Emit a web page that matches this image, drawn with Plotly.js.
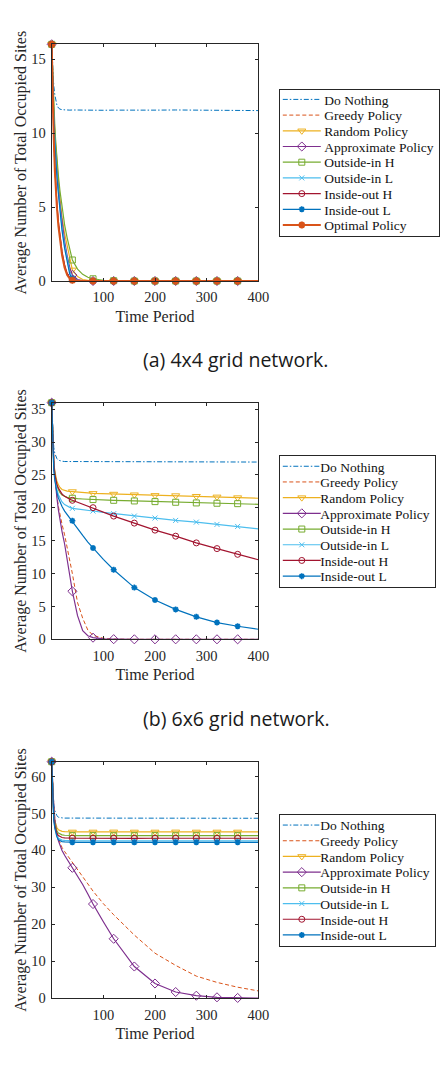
<!DOCTYPE html>
<html>
<head>
<meta charset="utf-8">
<script src="https://cdn.plot.ly/plotly-3.0.1.min.js"></script>
<style>
  html, body { margin: 0; padding: 0; background: #ffffff; }
  #chart { width: 442px; height: 1068px; }
</style>
</head>
<body>
<div id="chart"></div>
<script>
// Sampling times (periods) shared by every series
const T = [0, 2, 4, 6, 8, 10, 13, 16, 20, 25, 30, 35, 40, 50, 60, 70, 80, 100, 120, 160, 200, 240, 280, 320, 360, 400];
// Periods at which a marker is drawn on the marked series
const MARK_T = [0, 40, 80, 120, 160, 200, 240, 280, 320, 360];

const xTicks = [100, 200, 300, 400];
const yTicksA = [0, 5, 10, 15];
const yTicksB = [0, 5, 10, 15, 20, 25, 30, 35];
const yTicksC = [0, 10, 20, 30, 40, 50, 60];

const captionA = '(a) 4x4 grid network.';
const captionB = '(b) 6x6 grid network.';

// ---- (a) 4x4 grid network ----
const g4_doNothing   = [16, 14.2, 13.2, 12.6, 12.2, 11.9, 11.7, 11.62, 11.58, 11.56, 11.55, 11.55, 11.56, 11.55, 11.54, 11.53, 11.52, 11.54, 11.55, 11.53, 11.55, 11.56, 11.55, 11.54, 11.53, 11.52];
const g4_greedy      = [16, 12.3, 9.8, 7.7, 6.3, 5.2, 3.9, 2.9, 1.9, 1.0, 0.45, 0.18, 0.06, 0.01, 0, 0, 0, 0, 0, 0, 0, 0, 0, 0, 0, 0];
const g4_random      = [16, 13.4, 11.6, 10.1, 8.9, 7.9, 6.7, 5.6, 4.3, 3.2, 2.4, 1.4, 0.75, 0.3, 0.1, 0.04, 0.02, 0, 0, 0, 0, 0, 0, 0, 0, 0];
const g4_approximate = [16, 13.2, 11.3, 9.8, 8.6, 7.6, 6.3, 5.2, 3.9, 2.7, 1.7, 0.9, 0.4, 0.1, 0.03, 0.01, 0, 0, 0, 0, 0, 0, 0, 0, 0, 0];
const g4_outsideInH  = [16, 13.6, 11.9, 10.5, 9.3, 8.3, 7.1, 6.1, 4.9, 3.8, 2.9, 2.2, 1.42, 0.8, 0.45, 0.25, 0.15, 0.05, 0.02, 0, 0, 0, 0, 0, 0, 0];
const g4_outsideInL  = [16, 13.1, 11.1, 9.6, 8.3, 7.3, 6.0, 4.8, 3.6, 2.4, 1.4, 0.6, 0.2, 0.05, 0.01, 0, 0, 0, 0, 0, 0, 0, 0, 0, 0, 0];
const g4_insideOutH  = [16, 12.4, 9.9, 7.9, 6.4, 5.3, 4.0, 3.0, 2.0, 1.1, 0.5, 0.2, 0.08, 0.02, 0, 0, 0, 0, 0, 0, 0, 0, 0, 0, 0, 0];
const g4_insideOutL  = [16, 13, 11, 9.4, 8.1, 7.1, 5.9, 4.6, 3.4, 2.2, 1.2, 0.45, 0.15, 0.03, 0, 0, 0, 0, 0, 0, 0, 0, 0, 0, 0, 0];
const g4_optimal     = [16, 12.2, 9.6, 7.5, 6.1, 5.0, 3.7, 2.7, 1.75, 0.9, 0.4, 0.15, 0.05, 0.01, 0, 0, 0, 0, 0, 0, 0, 0, 0, 0, 0, 0];

// ---- (b) 6x6 grid network ----
const g6_doNothing   = [36, 31.0, 29.2, 28.3, 27.8, 27.5, 27.25, 27.15, 27.1, 27.05, 27.05, 27.03, 27.03, 27.02, 27.02, 27.0, 27.0, 27.0, 26.98, 27.0, 26.98, 26.97, 26.98, 26.97, 26.97, 26.97];
const g6_greedy      = [36, 31, 27.6, 25.2, 23.3, 21.9, 20.2, 18.9, 17.5, 15.9, 14.1, 12.2, 10.0, 5.6, 3.2, 1.4, 0.6, 0.15, 0.03, 0, 0, 0, 0, 0, 0, 0];
const g6_random      = [36, 29.5, 27.0, 25.6, 24.7, 24.1, 23.5, 23.1, 22.8, 22.65, 22.55, 22.5, 22.48, 22.4, 22.33, 22.27, 22.2, 22.15, 22.1, 22.0, 21.9, 21.87, 21.77, 21.67, 21.56, 21.46];
const g6_approximate = [36, 31, 27.5, 25, 23, 21.6, 19.7, 18.0, 16.4, 14.5, 12.3, 9.9, 7.31, 3.6, 1.3, 0.55, 0.25, 0.06, 0.02, 0, 0, 0, 0, 0, 0, 0];
const g6_outsideInH  = [36, 29.3, 26.7, 25.2, 24.2, 23.5, 22.8, 22.3, 21.95, 21.75, 21.6, 21.52, 21.46, 21.4, 21.35, 21.3, 21.26, 21.2, 21.15, 21.05, 20.95, 20.85, 20.75, 20.7, 20.64, 20.54];
const g6_outsideInL  = [36, 28.8, 26.0, 24.5, 23.5, 22.8, 22.0, 21.4, 20.9, 20.5, 20.25, 20.08, 19.93, 19.8, 19.7, 19.6, 19.52, 19.3, 19.11, 18.75, 18.45, 18.09, 17.83, 17.48, 17.17, 16.81];
const g6_insideOutH  = [36, 29.2, 26.6, 25.1, 24.2, 23.6, 23.0, 22.6, 22.1, 21.75, 21.5, 21.3, 21.15, 20.85, 20.6, 20.3, 20.03, 19.35, 18.75, 17.68, 16.61, 15.69, 14.67, 13.8, 12.93, 12.11];
const g6_insideOutL  = [36, 28.6, 25.8, 24.2, 23.2, 22.4, 21.5, 20.9, 20.2, 19.5, 18.95, 18.5, 18.04, 16.9, 15.8, 14.8, 13.9, 12.15, 10.58, 7.87, 5.98, 4.55, 3.42, 2.55, 1.99, 1.53];

// ---- (c) 8x8 grid network ----
const g8_doNothing   = [64, 56, 52.5, 50.8, 49.9, 49.4, 49.0, 48.85, 48.8, 48.75, 48.75, 48.7, 48.7, 48.7, 48.7, 48.7, 48.68, 48.7, 48.7, 48.68, 48.7, 48.7, 48.68, 48.7, 48.68, 48.7];
const g8_greedy      = [64, 57, 52.2, 48.8, 46.6, 45.0, 43.2, 42.0, 40.8, 39.7, 38.7, 37.7, 36.7, 34.8, 33.0, 31.0, 29.0, 25.6, 22.6, 17.1, 12.2, 8.9, 6.0, 4.3, 3.0, 2.0];
const g8_random      = [64, 54, 50, 48, 46.9, 46.2, 45.6, 45.3, 45.15, 45.1, 45.05, 45.0, 45.0, 45.0, 45.02, 45.0, 45.0, 45.0, 45.02, 45.0, 45.0, 45.02, 45.0, 45.0, 45.0, 45.0];
const g8_approximate = [64, 57, 52, 48.5, 46.2, 44.5, 42.6, 41.3, 40.0, 38.7, 37.6, 36.5, 35.3, 33.0, 30.8, 28.2, 25.5, 20.7, 16.1, 8.6, 4.0, 1.7, 0.7, 0.27, 0.1, 0.05];
const g8_outsideInH  = [64, 53.6, 49.5, 47.4, 46.1, 45.3, 44.7, 44.4, 44.2, 44.1, 44.05, 44.0, 44.0, 44.0, 43.98, 44.0, 44.0, 44.0, 43.98, 44.0, 44.0, 43.98, 44.0, 44.0, 44.0, 44.0];
const g8_outsideInL  = [64, 52.8, 48.5, 46.3, 44.9, 44.0, 43.3, 43.0, 42.8, 42.7, 42.65, 42.6, 42.6, 42.6, 42.58, 42.6, 42.6, 42.6, 42.58, 42.6, 42.6, 42.58, 42.6, 42.6, 42.6, 42.6];
const g8_insideOutH  = [64, 53.2, 49.0, 46.8, 45.4, 44.6, 44.0, 43.7, 43.5, 43.4, 43.35, 43.3, 43.3, 43.3, 43.3, 43.28, 43.3, 43.3, 43.3, 43.28, 43.3, 43.3, 43.3, 43.28, 43.3, 43.3];
const g8_insideOutL  = [64, 52.5, 48.2, 46.0, 44.6, 43.7, 42.9, 42.6, 42.4, 42.3, 42.25, 42.2, 42.2, 42.2, 42.2, 42.18, 42.2, 42.2, 42.2, 42.18, 42.2, 42.2, 42.2, 42.18, 42.2, 42.2];

const SERIF = 'Liberation Serif, Times New Roman, serif';
const INK = '#262626';

// Line / marker styling per policy (MATLAB default colour order)
const STYLE = {
  'Do Nothing':         { color: '#0072BD', dash: '5px,2px,1.5px,2px', width: 1, symbol: null },
  'Greedy Policy':      { color: '#D95319', dash: '4px,2.5px', width: 1, symbol: null },
  'Random Policy':      { color: '#EDB120', dash: 'solid', width: 1.2, symbol: 'triangle-down-open', size: 7, lw: 1 },
  'Approximate Policy': { color: '#7E2F8E', dash: 'solid', width: 1.2, symbol: 'diamond-open', size: 7, lw: 1 },
  'Outside-in H':       { color: '#77AC30', dash: 'solid', width: 1.2, symbol: 'square-open', size: 6, lw: 1 },
  'Outside-in L':       { color: '#4DBEEE', dash: 'solid', width: 1.2, symbol: 'x-thin-open', size: 5, lw: 1 },
  'Inside-out H':       { color: '#A2142F', dash: 'solid', width: 1.2, symbol: 'circle-open', size: 6, lw: 1 },
  'Inside-out L':       { color: '#0072BD', dash: 'solid', width: 1.2, symbol: 'asterisk-open', size: 5, lw: 1.6 },
  'Optimal Policy':     { color: '#D95319', dash: 'solid', width: 2, symbol: 'asterisk-open', size: 6, lw: 2.2 }
};

const panels = [
  { ax: '', legend: 'legend', series: [
    ['Do Nothing', g4_doNothing], ['Greedy Policy', g4_greedy], ['Random Policy', g4_random],
    ['Approximate Policy', g4_approximate], ['Outside-in H', g4_outsideInH], ['Outside-in L', g4_outsideInL],
    ['Inside-out H', g4_insideOutH], ['Inside-out L', g4_insideOutL], ['Optimal Policy', g4_optimal]] },
  { ax: '2', legend: 'legend2', series: [
    ['Do Nothing', g6_doNothing], ['Greedy Policy', g6_greedy], ['Random Policy', g6_random],
    ['Approximate Policy', g6_approximate], ['Outside-in H', g6_outsideInH], ['Outside-in L', g6_outsideInL],
    ['Inside-out H', g6_insideOutH], ['Inside-out L', g6_insideOutL]] },
  { ax: '3', legend: 'legend3', series: [
    ['Do Nothing', g8_doNothing], ['Greedy Policy', g8_greedy], ['Random Policy', g8_random],
    ['Approximate Policy', g8_approximate], ['Outside-in H', g8_outsideInH], ['Outside-in L', g8_outsideInL],
    ['Inside-out H', g8_insideOutH], ['Inside-out L', g8_insideOutL]] }
];

const traces = [];
panels.forEach((p, pi) => {
  const xa = 'x' + p.ax, ya = 'y' + p.ax;
  p.series.forEach(([name, vals]) => {
    const s = STYLE[name];
    const grp = 'p' + pi + name;
    const line = { color: s.color, width: s.width, dash: s.dash };
    // the curve itself
    traces.push({ type: 'scatter', mode: 'lines', x: T, y: vals, xaxis: xa, yaxis: ya,
      line: line, showlegend: false, legendgroup: grp, hoverinfo: 'skip' });
    if (s.symbol) {
      const mx = [], my = [];
      T.forEach((t, i) => { if (MARK_T.includes(t)) { mx.push(t); my.push(vals[i]); } });
      traces.push({ type: 'scatter', mode: 'markers', x: mx, y: my, xaxis: xa, yaxis: ya,
        marker: { symbol: s.symbol, size: s.size, color: s.color, line: { color: s.color, width: s.lw } },
        showlegend: false, legendgroup: grp, hoverinfo: 'skip', cliponaxis: false });
    }
    // legend key: line with its marker
    const key = { type: 'scatter', x: [null], y: [null], xaxis: xa, yaxis: ya, name: name,
      legend: p.legend, legendgroup: grp, line: line, mode: s.symbol ? 'lines+markers' : 'lines' };
    if (s.symbol) key.marker = { symbol: s.symbol, size: s.size, color: s.color, line: { color: s.color, width: s.lw } };
    traces.push(key);
  });
});

const W = 442, H = 1068;
const xDom = [51.7 / W, 258.3 / W];
const yDom = (top, bottom) => [1 - bottom / H, 1 - top / H];

function xAxis(anchor) {
  return {
    domain: xDom, anchor: anchor, range: [0, 400], tickvals: xTicks, ticktext: xTicks.map(String),
    ticks: 'inside', ticklen: 3, tickcolor: INK, tickwidth: 1, ticklabelstandoff: 3,
    showline: true, linecolor: INK, linewidth: 1, mirror: 'ticks',
    showgrid: false, zeroline: false, fixedrange: true,
    tickfont: { family: SERIF, size: 14.5, color: INK },
    title: { text: 'Time Period', font: { family: SERIF, size: 16, color: INK }, standoff: 6 }
  };
}
function yAxis(anchor, dom, maxV, ticks) {
  return {
    domain: dom, anchor: anchor, range: [0, maxV], tickvals: ticks, ticktext: ticks.map(String),
    ticks: 'inside', ticklen: 3, tickcolor: INK, tickwidth: 1, ticklabelstandoff: 2,
    showline: true, linecolor: INK, linewidth: 1, mirror: 'ticks',
    showgrid: false, zeroline: false, fixedrange: true,
    tickfont: { family: SERIF, size: 14.5, color: INK },
    title: { text: 'Average Number of Total Occupied Sites', font: { family: SERIF, size: 16, color: INK }, standoff: 0 }
  };
}
function legendAt(centerY) {
  return {
    x: 279.3 / W, xanchor: 'left', y: 1 - centerY / H, yanchor: 'middle',
    bgcolor: '#ffffff', bordercolor: INK, borderwidth: 1,
    font: { family: SERIF, size: 13.5, color: '#111111' },
    tracegroupgap: 0, itemclick: false, itemdoubleclick: false
  };
}

const layout = {
  width: W, height: H,
  margin: { l: 0, r: 0, t: 0, b: 0 },
  font: { family: SERIF, color: INK },
  paper_bgcolor: '#ffffff', plot_bgcolor: '#ffffff',
  showlegend: true,
  xaxis: xAxis('y'), yaxis: yAxis('x', yDom(44.3, 281), 16, yTicksA),
  xaxis2: xAxis('y2'), yaxis2: yAxis('x2', yDom(402.7, 639.3), 36, yTicksB),
  xaxis3: xAxis('y3'), yaxis3: yAxis('x3', yDom(761.7, 998.3), 64, yTicksC),
  legend: legendAt(162.7), legend2: legendAt(521.7), legend3: legendAt(880.5),
  annotations: [
    { text: captionA, xref: 'paper', yref: 'paper', x: 236 / W, y: 1 - 360 / H, xanchor: 'center', yanchor: 'middle',
      showarrow: false, font: { family: 'Open Sans, Noto Sans, sans-serif', size: 19.5, color: '#1a1a1a' } },
    { text: captionB, xref: 'paper', yref: 'paper', x: 236 / W, y: 1 - 718.3 / H, xanchor: 'center', yanchor: 'middle',
      showarrow: false, font: { family: 'Open Sans, Noto Sans, sans-serif', size: 19.5, color: '#1a1a1a' } }
  ]
};

// Compact legend layout: 15.7px row pitch, longer key lines, box kept centred where it was.
function compactLegends(gd) {
  const ROW = 15.7, PAD = 3, TEXT_X = 44;
  gd.querySelectorAll('.infolayer > g').forEach(lg => {
    if (!/^legend\d*$/.test(lg.getAttribute('class') || '')) return;
    const items = lg.querySelectorAll('g.traces');
    const bg = lg.querySelector('rect.bg');
    if (!items.length || !bg) return;
    const oldH = parseFloat(bg.getAttribute('height'));
    const newH = items.length * ROW + 2 * PAD;
    let maxText = 0;
    items.forEach((it, i) => {
      const m = /translate\(\s*([-\d.]+)[ ,]+([-\d.]+)/.exec(it.getAttribute('transform') || '');
      const x = m ? parseFloat(m[1]) : 1;
      it.setAttribute('transform', 'translate(' + x + ',' + (PAD + ROW * (i + 0.5)) + ')');
      it.querySelectorAll('.legendlines path').forEach(p => p.setAttribute('d', 'M2.5,0h38'));
      it.querySelectorAll('.legendpoints path').forEach(p => p.setAttribute('transform', 'translate(21.5,0)'));
      const tx = it.querySelector('text.legendtext');
      if (tx) {
        tx.setAttribute('x', TEXT_X);
        maxText = Math.max(maxText, tx.getBBox().width);
      }
    });
    bg.setAttribute('height', newH);
    if (maxText > 0) bg.setAttribute('width', TEXT_X + maxText + 6);
    const lm = /translate\(\s*([-\d.]+)[ ,]+([-\d.]+)/.exec(lg.getAttribute('transform') || '');
    if (lm) lg.setAttribute('transform', 'translate(' + lm[1] + ',' + (parseFloat(lm[2]) + (oldH - newH) / 2) + ')');
  });
}

Plotly.newPlot('chart', traces, layout, { staticPlot: true, displayModeBar: false })
  .then(compactLegends);
</script>
</body>
</html>
